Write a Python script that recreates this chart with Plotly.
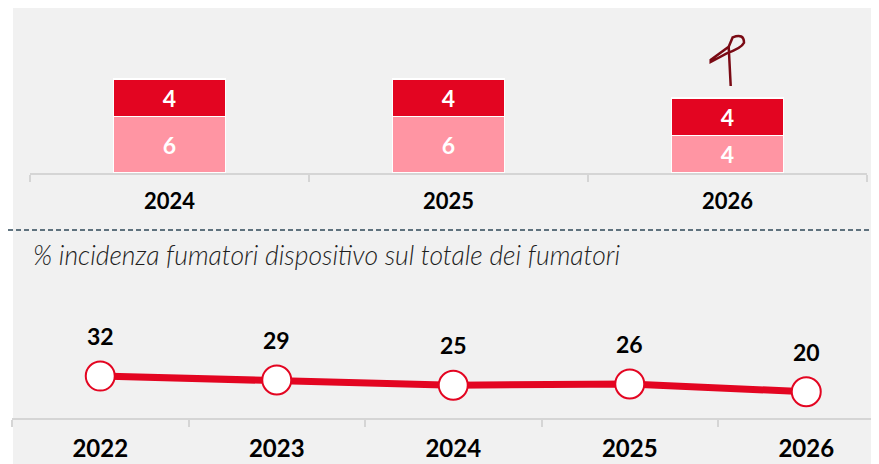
import plotly.graph_objects as go

# ---- data ----
bar_years = ["2024", "2025", "2026"]
bar_bottom = [6, 6, 4]
bar_top = [4, 4, 4]

line_years = ["2022", "2023", "2024", "2025", "2026"]
line_values = [32, 29, 25, 26, 20]

subtitle = "% incidenza fumatori dispositivo sul totale dei fumatori"

OFF = 8  # page body margin
W, H = 879 - OFF, 464 - OFF
RED = "#E30521"
PINK = "#FF95A3"
AXIS = "#D5D5D5"
FONT = "Lato"


def py(pix):
    return 1 - (pix - OFF) / H


def px(pix):
    return max(0, (pix - OFF) / W)


fig = go.Figure()

fig.add_trace(go.Bar(
    x=bar_years, y=bar_bottom, marker=dict(color=PINK, line=dict(color="white", width=1.5)),
    text=bar_bottom, texttemplate="%{text}", textposition="inside", insidetextanchor="middle",
    textangle=0, textfont=dict(color="white", size=23, family=FONT, weight="bold"),
    xaxis="x", yaxis="y", showlegend=False, hoverinfo="skip"))
fig.add_trace(go.Bar(
    x=bar_years, y=bar_top, marker=dict(color=RED, line=dict(color="white", width=1.5)),
    text=bar_top, texttemplate="%{text}", textposition="inside", insidetextanchor="middle",
    textangle=0, textfont=dict(color="white", size=23, family=FONT, weight="bold"),
    xaxis="x", yaxis="y", showlegend=False, hoverinfo="skip"))

fig.add_trace(go.Scatter(
    x=line_years, y=line_values, mode="lines+markers",
    line=dict(color=RED, width=7),
    marker=dict(size=29, color="white", line=dict(color=RED, width=2)),
    cliponaxis=False, xaxis="x2", yaxis="y2", showlegend=False, hoverinfo="skip"))

annotations = []
for i, v in enumerate(line_values):
    annotations.append(dict(
        x=i, y=v, xref="x2", yref="y2", text=str(v), showarrow=False,
        yshift=40, yanchor="middle",
        font=dict(size=23, color="black", family=FONT, weight="bold")))

annotations.append(dict(
    x=px(31), y=py(255), xref="paper", yref="paper", xanchor="left", yanchor="middle",
    text="<i>" + subtitle + "</i>", showarrow=False,
    font=dict(size=26.5, color="#1E1E1E", family=FONT, weight=300)))

shapes = [
    dict(type="rect", xref="paper", yref="paper", x0=px(13), x1=1, y0=0, y1=1,
         fillcolor="#F1F1F1", line=dict(width=0), layer="below"),
    dict(type="line", xref="paper", yref="paper", x0=0, x1=1, y0=py(230), y1=py(230),
         line=dict(color="#2F4858", width=1.5, dash="5px,3px")),
    dict(type="path", xref="paper", yref="paper",
         path="M {} {} L {} {} L {} {} Q {} {} {} {} Q {} {} {} {} L {} {} L {} {} L {} {}".format(
             px(730.7), py(86), px(728.7), py(46.7), px(732.7), py(37.3),
             px(744), py(33), px(744), py(42.7),
             px(741.7), py(47.8), px(726.7), py(53.3),
             px(710.7), py(62), px(710.7), py(60), px(728.7), py(46.7)),
         line=dict(color="#7A0A14", width=2.5)),
]

fig.update_layout(
    width=W, height=H, margin=dict(l=0, r=0, t=0, b=0),
    paper_bgcolor="white", plot_bgcolor="rgba(0,0,0,0)",
    barmode="stack", bargap=0.6,
    xaxis=dict(domain=[px(30), px(867)], type="category", showgrid=False,
               showline=True, linecolor=AXIS, linewidth=2,
               ticks="outside", ticklen=7, tickcolor=AXIS, tickwidth=2,
               tickson="boundaries", ticklabelstandoff=8,
               tickfont=dict(size=22, color="black", family=FONT, weight="bold"),
               fixedrange=True),
    yaxis=dict(domain=[py(173), py(60.2)], range=[0, 12], visible=False, fixedrange=True),
    xaxis2=dict(domain=[px(12), 1], type="category", range=[-0.5, -0.5 + (879 - 12) / 176.5],
                showgrid=False, showline=True, linecolor=AXIS, linewidth=2,
                ticks="outside", ticklen=7, tickcolor=AXIS, tickwidth=2,
                tickson="boundaries", ticklabelstandoff=8, anchor="y2",
                tickfont=dict(size=24, color="black", family=FONT, weight="bold"),
                fixedrange=True),
    yaxis2=dict(domain=[py(418), py(339.4)], range=[0, 60], visible=False,
                anchor="x2", fixedrange=True),
    annotations=annotations, shapes=shapes,
)

fig.write_html("out.html")
